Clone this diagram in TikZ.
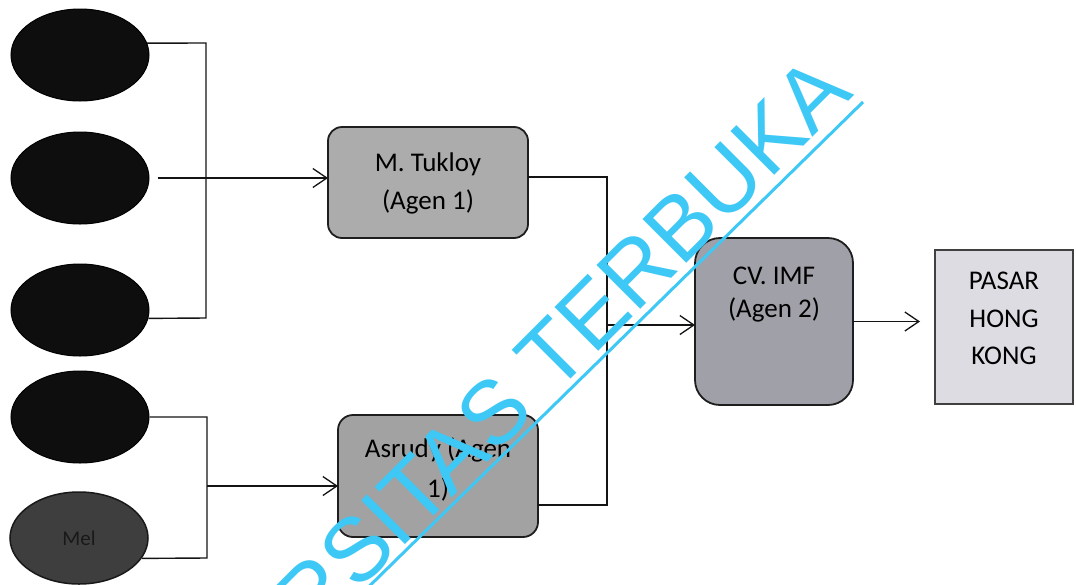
\documentclass[tikz,border=0pt]{standalone}
\usepackage{fontspec}
\setmainfont{Carlito}
\newfontfamily\wmfont{Liberation Sans}
\usetikzlibrary{arrows.meta,shapes.geometric}
\definecolor{wmcyan}{RGB}{62,200,246}
\definecolor{ovalfill}{RGB}{14,14,14}
\definecolor{ovalgray}{RGB}{62,62,62}
\definecolor{boxline}{RGB}{30,30,30}
\definecolor{tukfill}{RGB}{172,172,172}
\definecolor{asrfill}{RGB}{162,162,162}
\definecolor{cvfill}{RGB}{160,160,168}
\definecolor{pasfill}{RGB}{220,220,226}
\newcommand{\boxtxt}[5]{\parbox[c][#2][t]{#1}{\centering\fontsize{27}{#4}\selectfont\vspace*{#3}#5\par}}
\begin{document}
\begin{tikzpicture}[x=1pt,y=-1pt,
  src/.style={ellipse, draw=black, fill=ovalfill, minimum width=138pt, minimum height=92pt, inner sep=0pt, line width=1pt},
  agent/.style={draw=boxline, line width=1.8pt, inner sep=0pt, outer sep=0pt},
  conn/.style={line width=1.4pt, draw=black!92},
  arr/.style={conn, -{Straight Barb[length=14pt,width=19pt,line width=1.3pt]}},
  wmtext/.style={text=wmcyan, font=\wmfont\fontsize{90}{90}\selectfont, inner sep=0pt},
  wmline/.style={draw=wmcyan, line width=3pt}
]
\useasboundingbox (0,0) rectangle (1076,584);
\fill[white] (0,0) rectangle (1076,584);

% source ovals
\node[src] (e1) at (80,55) {};
\node[src] (e2) at (80,178) {};
\node[src] (e3) at (80,310) {};
\node[src] (e4) at (80,417) {};
\node[src, fill=ovalgray, draw=black!90, line width=1.5pt] (e5) at (79,538) {\fontsize{21}{21}\selectfont\color{black!90}Mel};

% agents
\node[agent, fill=tukfill, rounded corners=14pt] (tuk) at (428,182.5)
  {\boxtxt{200pt}{111pt}{26pt}{38pt}{M. Tukloy\\(Agen 1)}};
\node[agent, fill=asrfill, rounded corners=15pt] (asr) at (438,476)
  {\boxtxt{200pt}{122pt}{23pt}{40pt}{Asrudy (Agen\\1)}};
\node[agent, fill=cvfill, rounded corners=25pt] (cv) at (774,321.5)
  {\boxtxt{158pt}{167pt}{29pt}{33pt}{CV. IMF\\(Agen 2)}};
\node[agent, fill=pasfill, draw=black!75, line width=1.5pt] (pas) at (1004,327)
  {\boxtxt{138pt}{154pt}{22pt}{37.5pt}{PASAR\\HONG\\KONG}};

% first bracket
\coordinate (b1t) at (206,43);
\coordinate (b1b) at (206,318);
\draw[conn] (e1.10) -- (b1t) -- (b1b) -- (e3.-7);
\draw[arr] ([xshift=8pt]e2.east) -- (e2.east -| tuk.west);

% second bracket
\coordinate (b2t) at (207,417);
\coordinate (b2b) at (207,558);
\coordinate (b2m) at (207,486);
\draw[conn] (e4.east) -- (b2t) -- (b2b) -- (e5.-18);
\draw[arr] (b2m) -- (b2m -| asr.west);

% merge to agent 2
\coordinate (r1) at (607,177);
\coordinate (r2) at (607,505);
\coordinate (rm) at (607,325);
\draw[conn] (r1 -| tuk.east) -- (r1) -- (r2) -- (r2 -| asr.east);
\draw[arr] (rm) -- (rm -| cv.west);

% to market
\draw[arr] (cv.east) -- ([xshift=-15pt]cv.east -| pas.west);

% watermark
\begin{scope}
\clip (0,0) rectangle (1076,584);
\node[wmtext, rotate=45, anchor=base east] (wm) at (855,95) {UNIVERSITAS TERBUKA};
\coordinate (wl1) at (863,102);
\coordinate (wl2) at (343,612);
\draw[wmline] (wl1) -- (wl2);
\end{scope}
\end{tikzpicture}
\end{document}
